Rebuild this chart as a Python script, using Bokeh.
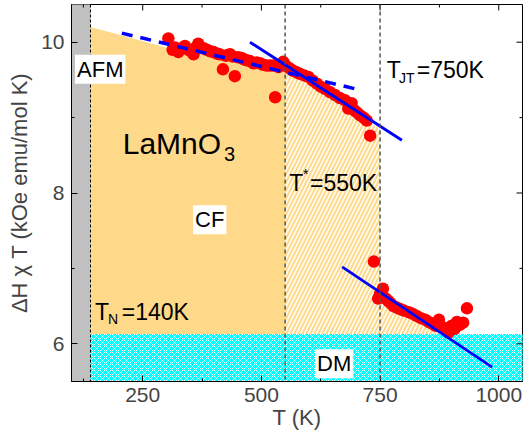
import math
from bokeh.plotting import figure
from bokeh.models import Label, Span, SingleIntervalTicker, Range1d
from bokeh.embed import file_html
from bokeh.resources import INLINE

# ---------------- data ----------------
T_band1 = [304, 313, 318, 325, 332, 339, 346, 352, 357, 362, 367, 372, 378, 385, 392, 399,
           406, 412, 419, 425, 430, 434, 440, 444, 451, 458, 464, 469, 476, 483, 490, 497,
           504, 511, 518, 525, 529, 536, 546, 553, 560, 567, 574, 581, 590, 599, 608, 617,
           625, 634, 644, 655, 665, 676, 683, 690, 695, 701, 708, 715, 722, 729]
chi_band1 = [10.05, 9.90, 9.93, 9.87, 9.92, 9.95, 9.90, 9.88, 9.84, 9.93, 9.98, 9.93, 9.92, 9.90, 9.88, 9.87,
             9.85, 9.84, 9.64, 9.82, 9.83, 9.84, 9.81, 9.55, 9.80, 9.79, 9.77, 9.76, 9.75, 9.72, 9.73, 9.72,
             9.70, 9.69, 9.69, 9.69, 9.27, 9.67, 9.74, 9.68, 9.65, 9.62, 9.60, 9.58, 9.56, 9.54, 9.49, 9.45,
             9.41, 9.38, 9.34, 9.30, 9.26, 9.23, 9.12, 9.19, 9.10, 9.07, 9.03, 9.00, 8.96, 8.76]
T_band2 = [737, 746, 750, 756, 762, 767, 772, 778, 785, 792, 800, 810, 818, 827, 836, 845,
           852, 859, 866, 874, 880, 887, 894, 901, 907, 912, 918, 925, 933]
chi_band2 = [7.09, 6.60, 6.66, 6.73, 6.60, 6.57, 6.54, 6.50, 6.48, 6.46, 6.44, 6.42, 6.40, 6.37, 6.34, 6.32,
             6.29, 6.27, 6.24, 6.32, 6.22, 6.21, 6.15, 6.24, 6.20, 6.29, 6.25, 6.28, 6.47]

fit_dash_T = [206, 712]
fit_dash_chi = [10.12, 9.36]
fit1_T = [476, 796]
fit1_chi = [10.00, 8.70]
fit2_T = [670, 986]
fit2_chi = [7.02, 5.69]

T_min, T_max = 100, 1050
chi_min, chi_max = 5.5, 10.5
T_N, T_star, T_JT = 140, 550, 750
dm_top = 6.13

cf_T = [140, 300, 400, 500, 550]
cf_top = [10.20, 9.93, 9.85, 9.70, 9.64]
hatch_T = [550, 600, 650, 700, 730, 750, 750, 800, 850, 895]
hatch_top = [9.64, 9.50, 9.31, 9.06, 8.92, 8.86, 6.68, 6.44, 6.30, 6.13]

x_major = [250, 500, 750, 1000]
x_minor = [125, 375, 625, 875]
y_major = [6, 8, 10]
y_minor = [7, 9]

FONT = "Liberation Sans"
ORANGE = "#FFD98A"

p = figure(width=523, height=437, x_range=Range1d(T_min, T_max), y_range=Range1d(chi_min, chi_max),
           output_backend="svg", toolbar_location=None,
           min_border_left=71, min_border_right=1, min_border_top=4, min_border_bottom=56)
p.background_fill_color = "white"
p.xgrid.visible = False
p.ygrid.visible = False
p.outline_line_color = "black"
p.outline_line_width = 1

for ax in (p.xaxis[0], p.yaxis[0]):
    ax.major_tick_in = 6
    ax.major_tick_out = 0
    ax.minor_tick_in = 3
    ax.minor_tick_out = 0
    ax.major_label_text_font = FONT
    ax.major_label_text_font_size = "21px"
    ax.axis_label_text_font = FONT
    ax.axis_label_text_font_style = "normal"
    ax.axis_label_text_font_size = "22px"
    ax.axis_line_color = "black"
    ax.major_tick_line_color = "black"
    ax.minor_tick_line_color = "black"
p.xaxis[0].ticker = SingleIntervalTicker(interval=250, num_minor_ticks=2)
p.yaxis[0].ticker = SingleIntervalTicker(interval=2, num_minor_ticks=2)
p.xaxis[0].axis_label = "T (K)"
p.yaxis[0].axis_label = "ΔH χ T (kOe emu/mol K)"
p.xaxis[0].major_label_standoff = 6
p.xaxis[0].axis_label_standoff = 0
p.yaxis[0].major_label_standoff = 7
p.yaxis[0].axis_label_standoff = 6

# regions
p.quad(left=[T_min], right=[T_N], bottom=[5.0], top=[11.0], fill_color="#C0C0C0", line_color=None)
p.patch(cf_T + [T_star, T_N], cf_top + [dm_top, dm_top], fill_color=ORANGE, line_color=None)
p.patch(hatch_T + [hatch_T[-1], T_star], hatch_top + [dm_top, dm_top], fill_color=ORANGE,
        line_color=None, hatch_pattern="/", hatch_color="white", hatch_scale=8, hatch_weight=1.5)
p.quad(left=[T_N], right=[T_max + 10], bottom=[5.0], top=[dm_top], fill_color="#00FFFF",
       line_color=None, hatch_pattern="x", hatch_color="white", hatch_scale=6, hatch_weight=1)

# data
p.scatter(T_band1, chi_band1, size=12.5, fill_color="#FF0000", line_color=None)
p.scatter(T_band2, chi_band2, size=12.5, fill_color="#FF0000", line_color=None)

# fits
p.line(fit_dash_T, fit_dash_chi, line_color="#0000FF", line_width=3.5, line_dash="11 8")
p.line(fit1_T, fit1_chi, line_color="#0000FF", line_width=2.8)
p.line(fit2_T, fit2_chi, line_color="#0000FF", line_width=2.8)

# mirrored inward ticks on top and right edges
p.scatter(x_major, [chi_max] * len(x_major), marker="dash", angle=math.pi / 2, size=12, line_color="black", line_width=1)
p.scatter(x_minor, [chi_max] * len(x_minor), marker="dash", angle=math.pi / 2, size=6, line_color="black", line_width=1)
p.scatter([T_max] * len(y_major), y_major, marker="dash", size=12, line_color="black", line_width=1)
p.scatter([T_max] * len(y_minor), y_minor, marker="dash", size=6, line_color="black", line_width=1)

# transition markers
p.add_layout(Span(location=T_N, dimension="height", line_color="black", line_width=1, line_dash="3 2"))
for loc in (T_star, T_JT):
    p.add_layout(Span(location=loc, dimension="height", line_color="#555555", line_width=1.5, line_dash="4 3"))


def lab(x, y, text, size="22px", box=False):
    kw = dict(x=x, y=y, text=text, text_font=FONT, text_font_size=size,
              text_baseline="alphabetic", text_align="left", text_color="black")
    if box:
        kw.update(background_fill_color="white", padding=2)
    p.add_layout(Label(**kw))


lab(107.4, 9.641, "AFM", box=True)
lab(207.9, 8.654, "LaMnO", size="30px")
lab(421.3, 8.512, "3", size="20px")
lab(356, 7.644, "CF", box=True)
lab(558.9, 8.130, "T", size="23px")
lab(587.8, 8.246, "*", size="14px")
lab(602.5, 8.130, "=550K", size="23px")
lab(764.1, 9.628, "T", size="23px")
lab(790.0, 9.526, "JT", size="14px")
lab(827.3, 9.628, "=750K", size="23px")
lab(149.5, 6.425, "T", size="23px")
lab(176.9, 6.332, "N", size="14px")
lab(205.8, 6.425, "=140K", size="23px")
lab(613, 5.734, "DM", box=True)

open("out.html", "w").write(file_html(p, INLINE))
